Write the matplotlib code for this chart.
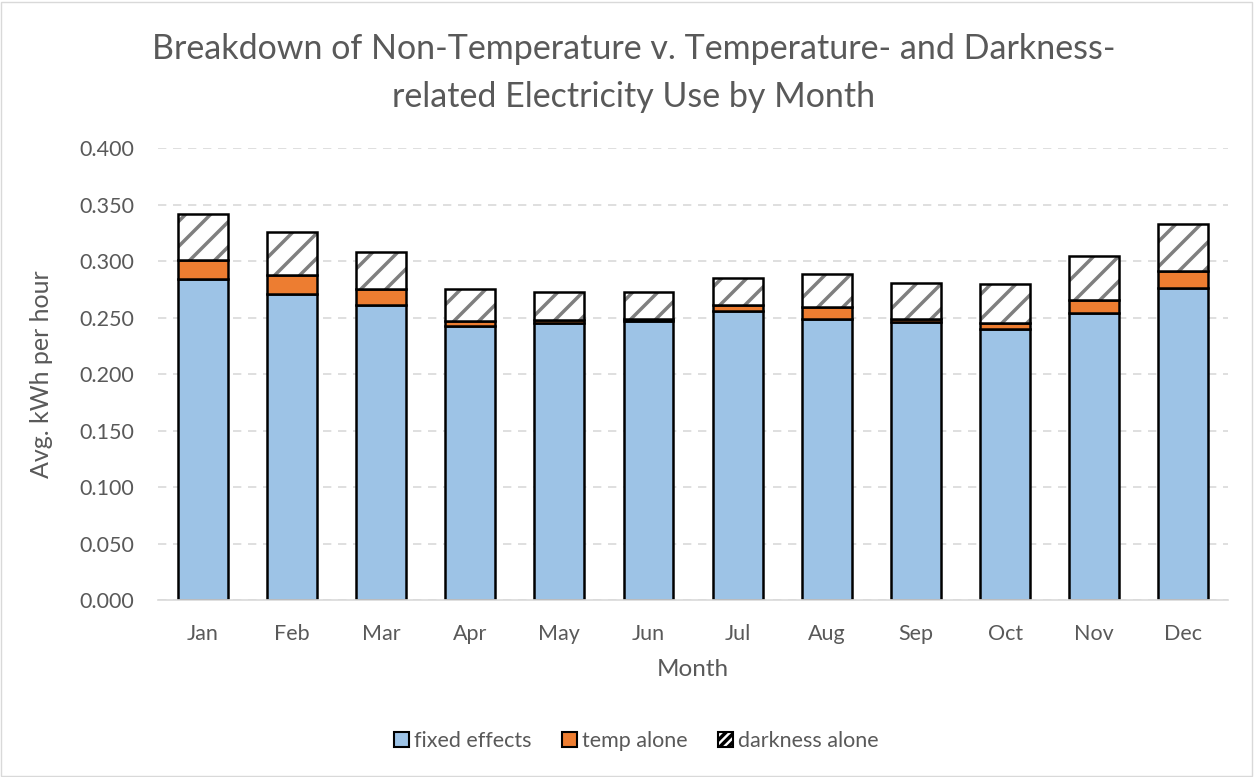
import matplotlib
matplotlib.use("Agg")
import matplotlib.pyplot as plt
import numpy as np
from matplotlib.patches import Patch, Rectangle

months = ["Jan", "Feb", "Mar", "Apr", "May", "Jun", "Jul", "Aug", "Sep", "Oct", "Nov", "Dec"]
fixed_effects = [0.284, 0.271, 0.261, 0.2425, 0.2455, 0.247, 0.2558, 0.2487, 0.246, 0.240, 0.2543, 0.2764]
temp_alone = [0.017, 0.017, 0.014, 0.0045, 0.0025, 0.002, 0.005, 0.011, 0.003, 0.005, 0.011, 0.015]
darkness_alone = [0.041, 0.038, 0.033, 0.028, 0.025, 0.024, 0.0245, 0.0284, 0.0317, 0.035, 0.0395, 0.0416]
yticks = [0.0, 0.05, 0.10, 0.15, 0.20, 0.25, 0.30, 0.35, 0.40]

DPI = 75
S = 100.0 / DPI  # scale so that sizes behave as at 100 dpi

plt.rcParams['font.family'] = ['Lato', 'DejaVu Sans']
plt.rcParams['hatch.linewidth'] = 2.5 * S
plt.rcParams['hatch.color'] = '#7f7f7f'

TXT = '#595959'
fig = plt.figure(figsize=(1255 / DPI, 777 / DPI), dpi=DPI)
fig.patches.append(Rectangle((0.001, 0.001), 0.997, 0.997, transform=fig.transFigure,
                             fill=False, edgecolor='#d9d9d9', linewidth=1 * S))
ax = fig.add_axes([0.126, 0.2278, 0.8525, 0.5817])

x = np.arange(len(months))
w = 0.56
fixed = np.array(fixed_effects)
temp = np.array(temp_alone)
dark = np.array(darkness_alone)
lw = 1.8 * S
ax.bar(x, fixed, w, color='#9dc3e6', edgecolor='black', linewidth=lw, zorder=3)
ax.bar(x, temp, w, bottom=fixed, color='#ed7d31', edgecolor='black', linewidth=lw, zorder=3)
ax.bar(x, dark, w, bottom=fixed + temp, color='white', edgecolor='#7f7f7f', hatch='/', linewidth=0, zorder=3)
ax.bar(x, dark, w, bottom=fixed + temp, fill=False, edgecolor='black', linewidth=lw, zorder=4)

ax.set_xlim(-0.5, len(months) - 0.5)
ax.set_ylim(0, 0.4)
ax.set_yticks(yticks)
ax.set_yticklabels([f"{v:.3f}" for v in yticks])
ax.set_xticks(x)
ax.set_xticklabels(months)
ax.tick_params(axis='both', length=0, labelsize=15.5 * S, labelcolor=TXT)
ax.tick_params(axis='y', pad=17 * S)
ax.tick_params(axis='x', pad=17 * S)
ax.grid(axis='y', color='#d9d9d9', linestyle=(0, (5, 4)), linewidth=1.2 * S, zorder=0)
for s in ['top', 'right', 'left']:
    ax.spines[s].set_visible(False)
ax.spines['bottom'].set_color('#d9d9d9')
ax.spines['bottom'].set_linewidth(1.2 * S)
ax.spines['bottom'].set_zorder(5)

ax.set_ylabel("Avg. kWh per hour", fontsize=18 * S, color=TXT, labelpad=19 * S)
ax.set_xlabel("Month", fontsize=17.5 * S, color=TXT, labelpad=11 * S)
fig.text(0.505, 0.906, "Breakdown of Non-Temperature v. Temperature- and Darkness-\nrelated Electricity Use by Month",
         ha='center', va='center', fontsize=24.5 * S, color=TXT, linespacing=1.6)

handles = [Patch(facecolor='#9dc3e6', edgecolor='black', linewidth=1.5 * S),
           Patch(facecolor='#ed7d31', edgecolor='black', linewidth=1.5 * S),
           Patch(facecolor='white', edgecolor='black', hatch='///', linewidth=1.5 * S)]
leg = fig.legend(handles, ["fixed effects", "temp alone", "darkness alone"], loc='center',
                 bbox_to_anchor=(0.507, 0.046), ncol=3, frameon=False, fontsize=15.5 * S,
                 handlelength=0.7, handleheight=0.7, handletextpad=0.25, columnspacing=1.4)
for t in leg.get_texts():
    t.set_color(TXT)

fig.savefig("out.png", dpi=DPI)
